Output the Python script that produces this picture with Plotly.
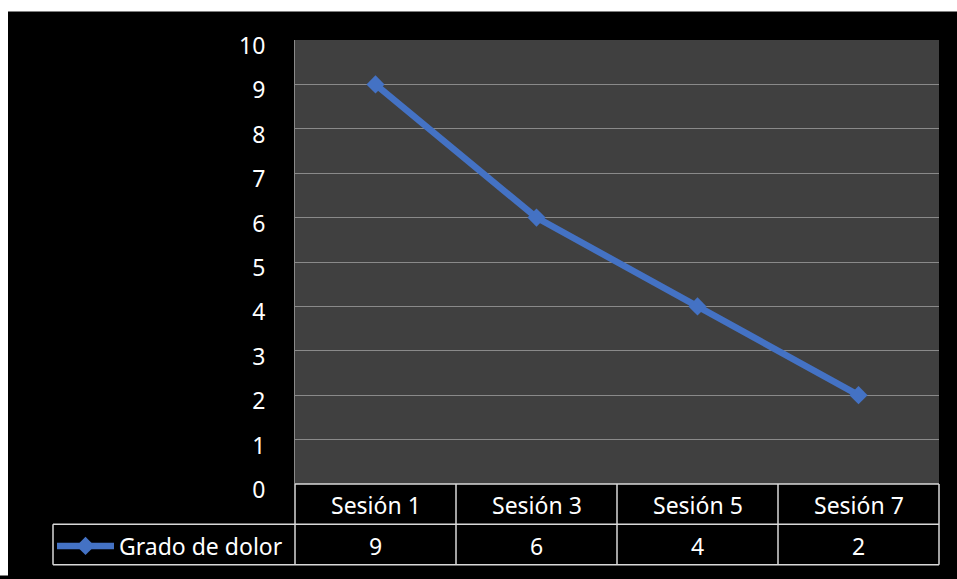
import plotly.graph_objects as go

categories = ["Sesión 1", "Sesión 3", "Sesión 5", "Sesión 7"]
values = [9, 6, 4, 2]
series_name = "Grado de dolor"
y_ticks = [0, 1, 2, 3, 4, 5, 6, 7, 8, 9, 10]

W, H = 957, 579
L, R, T, B = 295, 939, 40, 491  # plot area in pixels
pw, ph = R - L, B - T

def px(X):
    return (X - L) / pw

def py(Y):
    return (B - Y) / ph

FONT = "Noto Sans"
FS = 23
BLUE = "#4472C4"
TABLE = "#d9d9d9"

fig = go.Figure()
fig.add_trace(go.Scatter(
    x=categories, y=values, mode="lines+markers", name=series_name,
    line=dict(color=BLUE, width=6.5),
    marker=dict(symbol="diamond", size=14, color=BLUE),
))

shapes = []
# white strips on top and left (rest of canvas is black)
shapes.append(dict(type="rect", xref="paper", yref="paper", layer="below",
                   x0=px(-5), x1=px(W + 5), y0=py(11), y1=py(-5),
                   fillcolor="white", line=dict(width=0)))
shapes.append(dict(type="rect", xref="paper", yref="paper", layer="below",
                   x0=px(-5), x1=px(8), y0=py(H + 5), y1=py(-5),
                   fillcolor="white", line=dict(width=0)))
# plot area background
shapes.append(dict(type="rect", xref="paper", yref="paper", layer="below",
                   x0=0, x1=1, y0=0, y1=1, fillcolor="#404040", line=dict(width=0)))

def hline(X0, X1, Y, color=TABLE):
    shapes.append(dict(type="line", xref="paper", yref="paper", x0=px(X0), x1=px(X1),
                       y0=py(Y), y1=py(Y), line=dict(color=color, width=1.5)))

def vline(X, Y0, Y1, color=TABLE):
    shapes.append(dict(type="line", xref="paper", yref="paper", x0=px(X), x1=px(X),
                       y0=py(Y0), y1=py(Y1), line=dict(color=color, width=1.5)))

row1_top, row1_bot, row2_bot = 491, 532, 573
hline(L, R, row1_top)
hline(53, R, row1_bot)
hline(53, R, row2_bot)
n = len(categories)
for i in range(n + 1):
    X = L + pw * i / n
    vline(X, row1_top, row2_bot)
vline(53, row1_bot, row2_bot)

annotations = []
for i, (c, v) in enumerate(zip(categories, values)):
    annotations.append(dict(x=c, xref="x", y=py((row1_top + row1_bot) / 2 + 1), yref="paper",
                            text=c, showarrow=False, xanchor="center", yanchor="middle",
                            font=dict(family=FONT, size=FS, color="white")))
    annotations.append(dict(x=c, xref="x", y=py((row1_bot + row2_bot) / 2 + 1), yref="paper",
                            text=str(v), showarrow=False, xanchor="center", yanchor="middle",
                            font=dict(family=FONT, size=FS, color="white")))

fig.update_layout(
    width=W, height=H,
    margin=dict(l=L, r=W - R, t=T, b=H - B),
    paper_bgcolor="black",
    plot_bgcolor="rgba(0,0,0,0)",
    shapes=shapes,
    annotations=annotations,
    showlegend=True,
    legend=dict(x=px(52), xanchor="left", y=py(554), yanchor="middle",
                bgcolor="rgba(0,0,0,0)", itemwidth=57,
                font=dict(family=FONT, size=FS, color="white"),
                tracegroupgap=0, borderwidth=0),
    xaxis=dict(type="category", range=[-0.5, n - 0.5], showgrid=False, zeroline=False,
               showticklabels=False, ticks="", showline=False),
    yaxis=dict(range=[0, 10], tickvals=y_ticks, showgrid=True, gridcolor="#8a8a8a",
               gridwidth=1, zeroline=False, showline=True, linecolor="#8a8a8a", linewidth=1,
               ticks="", ticklabelstandoff=24, ticklabelshift=6,
               tickfont=dict(family=FONT, size=FS, color="white")),
    font=dict(family=FONT, color="white"),
)

fig.write_html("out.html")
